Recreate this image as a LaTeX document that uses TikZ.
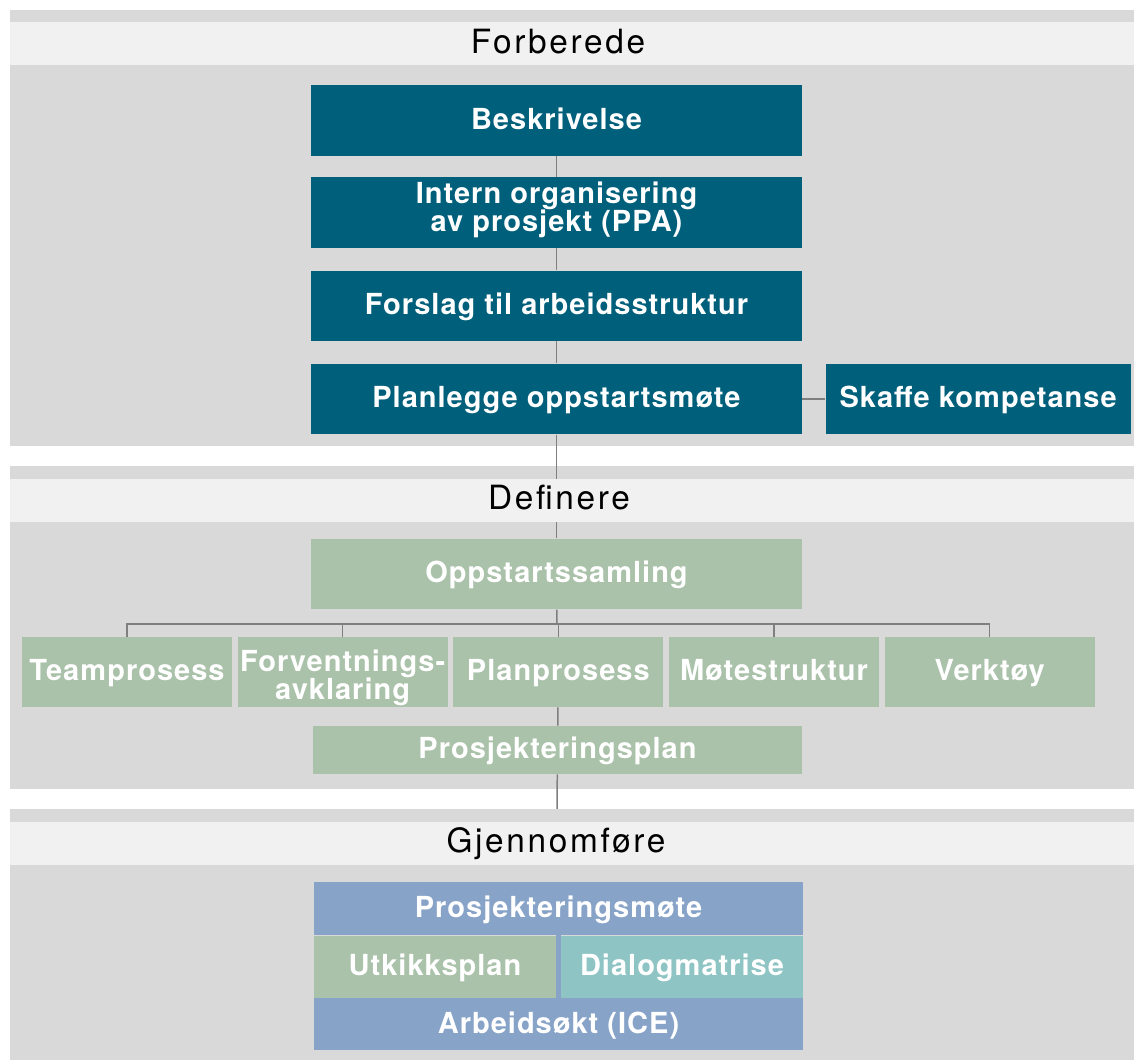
\documentclass[tikz,border=0pt]{standalone}
\usepackage{fontspec}
\setmainfont{TeX Gyre Heros}
\newfontfamily\boksfont[LetterSpace=3.5]{TeX Gyre Heros}
\newfontfamily\fasefont[LetterSpace=8]{TeX Gyre Heros}
\usetikzlibrary{positioning}

\definecolor{petrol}{HTML}{005F7A}
\definecolor{salvie}{HTML}{AAC1AA}
\definecolor{duebla}{HTML}{87A3C8}
\definecolor{turkis}{HTML}{8FC4C4}
\definecolor{panelgra}{HTML}{D9D9D9}
\definecolor{stripegra}{HTML}{F1F1F1}
\definecolor{linjegra}{HTML}{7F7F7F}

\tikzset{
  boks/.style={inner sep=0pt, align=center, text=white,
    font=\boksfont\bfseries\fontsize{16.5}{16}\selectfont},
  enlinje/.style={text height=13.2pt, text depth=3.2pt},
  hovedboks/.style={boks, fill=petrol, minimum width=9.82cm, minimum height=1.41cm},
  definerboks/.style={boks, fill=salvie, minimum width=4.2cm, minimum height=1.4cm},
  forbindelse/.style={draw=linjegra, line width=0.85pt},
  fasenavn/.style={anchor=base, font=\fasefont\fontsize{19}{19}\selectfont}
}

\begin{document}
\begin{tikzpicture}[x=0.02cm, y=-0.02cm]
  \useasboundingbox (0,0) rectangle (1134,1060);

  % Panels
  \fill[panelgra] (10,10) rectangle (1134,446);   % Forberede
  \fill[panelgra] (10,466) rectangle (1134,789);  % Definere
  \fill[panelgra] (10,809) rectangle (1134,1060); % Gjennomfoere

  % Forberede
  \node[hovedboks, enlinje] (beskrivelse) at (556.5,120.5) {Beskrivelse};
  \node[hovedboks, text height=25pt, text depth=3.5pt, below=0.42cm of beskrivelse] (intern) {Intern organisering\\av prosjekt (PPA)};
  \node[hovedboks, enlinje, below=0.44cm of intern] (forslag) {Forslag til arbeidsstruktur};
  \node[hovedboks, enlinje, below=0.44cm of forslag] (planlegge) {Planlegge oppstartsmøte};
  \node[hovedboks, enlinje, minimum width=6.1cm, right=0.46cm of planlegge] (skaffe) {Skaffe kompetanse};

  % Definere
  \node[hovedboks, enlinje, fill=salvie] (oppstart) at (556.5,574) {Oppstartssamling};
  \node[definerboks, enlinje] (team) at (127,672) {Teamprosess};
  \node[definerboks, text height=35pt, text depth=3.5pt, right=0.1cm of team] (forventning) {Forventnings-\\avklaring};
  \node[definerboks, enlinje, right=0.1cm of forventning] (planprosess) {Planprosess};
  \node[definerboks, enlinje, right=0.1cm of planprosess] (motestruktur) {Møtestruktur};
  \node[definerboks, enlinje, right=0.1cm of motestruktur] (verktoy) {Verktøy};
  \node[boks, enlinje, fill=salvie, minimum width=9.78cm, minimum height=0.96cm] (prplan) at (557.5,750) {Prosjekteringsplan};
  \coordinate (gren) at (557,624);
  \coordinate (gjstart) at (557,809);

  % Gjennomfoere
  \node[boks, enlinje, fill=duebla, minimum width=9.78cm, minimum height=1.06cm] (prmote) at (558.5,908.5) {Prosjekteringsmøte};
  \node[boks, enlinje, fill=salvie, anchor=north west, minimum width=4.84cm, minimum height=1.24cm] (utkikk) at (prmote.south west) {Utkikksplan};
  \node[boks, enlinje, fill=turkis, anchor=north east, minimum width=4.84cm, minimum height=1.24cm] (dialog) at (prmote.south east) {Dialogmatrise};
  \node[boks, enlinje, fill=duebla, anchor=north west, minimum width=9.78cm, minimum height=1.04cm] (arbeid) at (utkikk.south west) {Arbeidsøkt (ICE)};
  \fill[duebla] (utkikk.north east) rectangle (dialog.south west);

  % Connectors
  \draw[forbindelse] (beskrivelse) -- (intern);
  \draw[forbindelse] (intern) -- (forslag);
  \draw[forbindelse] (forslag) -- (planlegge);
  \draw[forbindelse] (planlegge) -- (skaffe);
  \draw[forbindelse] (planlegge) -- (oppstart);
  \draw[forbindelse] (oppstart) -- (gren);
  \foreach \b in {team,forventning,planprosess,motestruktur,verktoy}
    \draw[forbindelse] (gren) -| (\b.north);
  \draw[forbindelse] (planprosess) -- (prplan);
  \draw[forbindelse] (prplan) -- (gjstart);

  % Phase headings, drawn on top of the connectors
  \fill[stripegra] (10,22) rectangle (1134,65);
  \node[fasenavn] (forberede) at (558,54) {Forberede};
  \fill[stripegra] (10,479) rectangle (1134,522);
  \node[fasenavn] (definere) at (559,510) {Definere};
  \fill[stripegra] (10,822) rectangle (1134,865);
  \node[fasenavn] (gjennomfore) at (556,853) {Gjennomføre};
\end{tikzpicture}
\end{document}
